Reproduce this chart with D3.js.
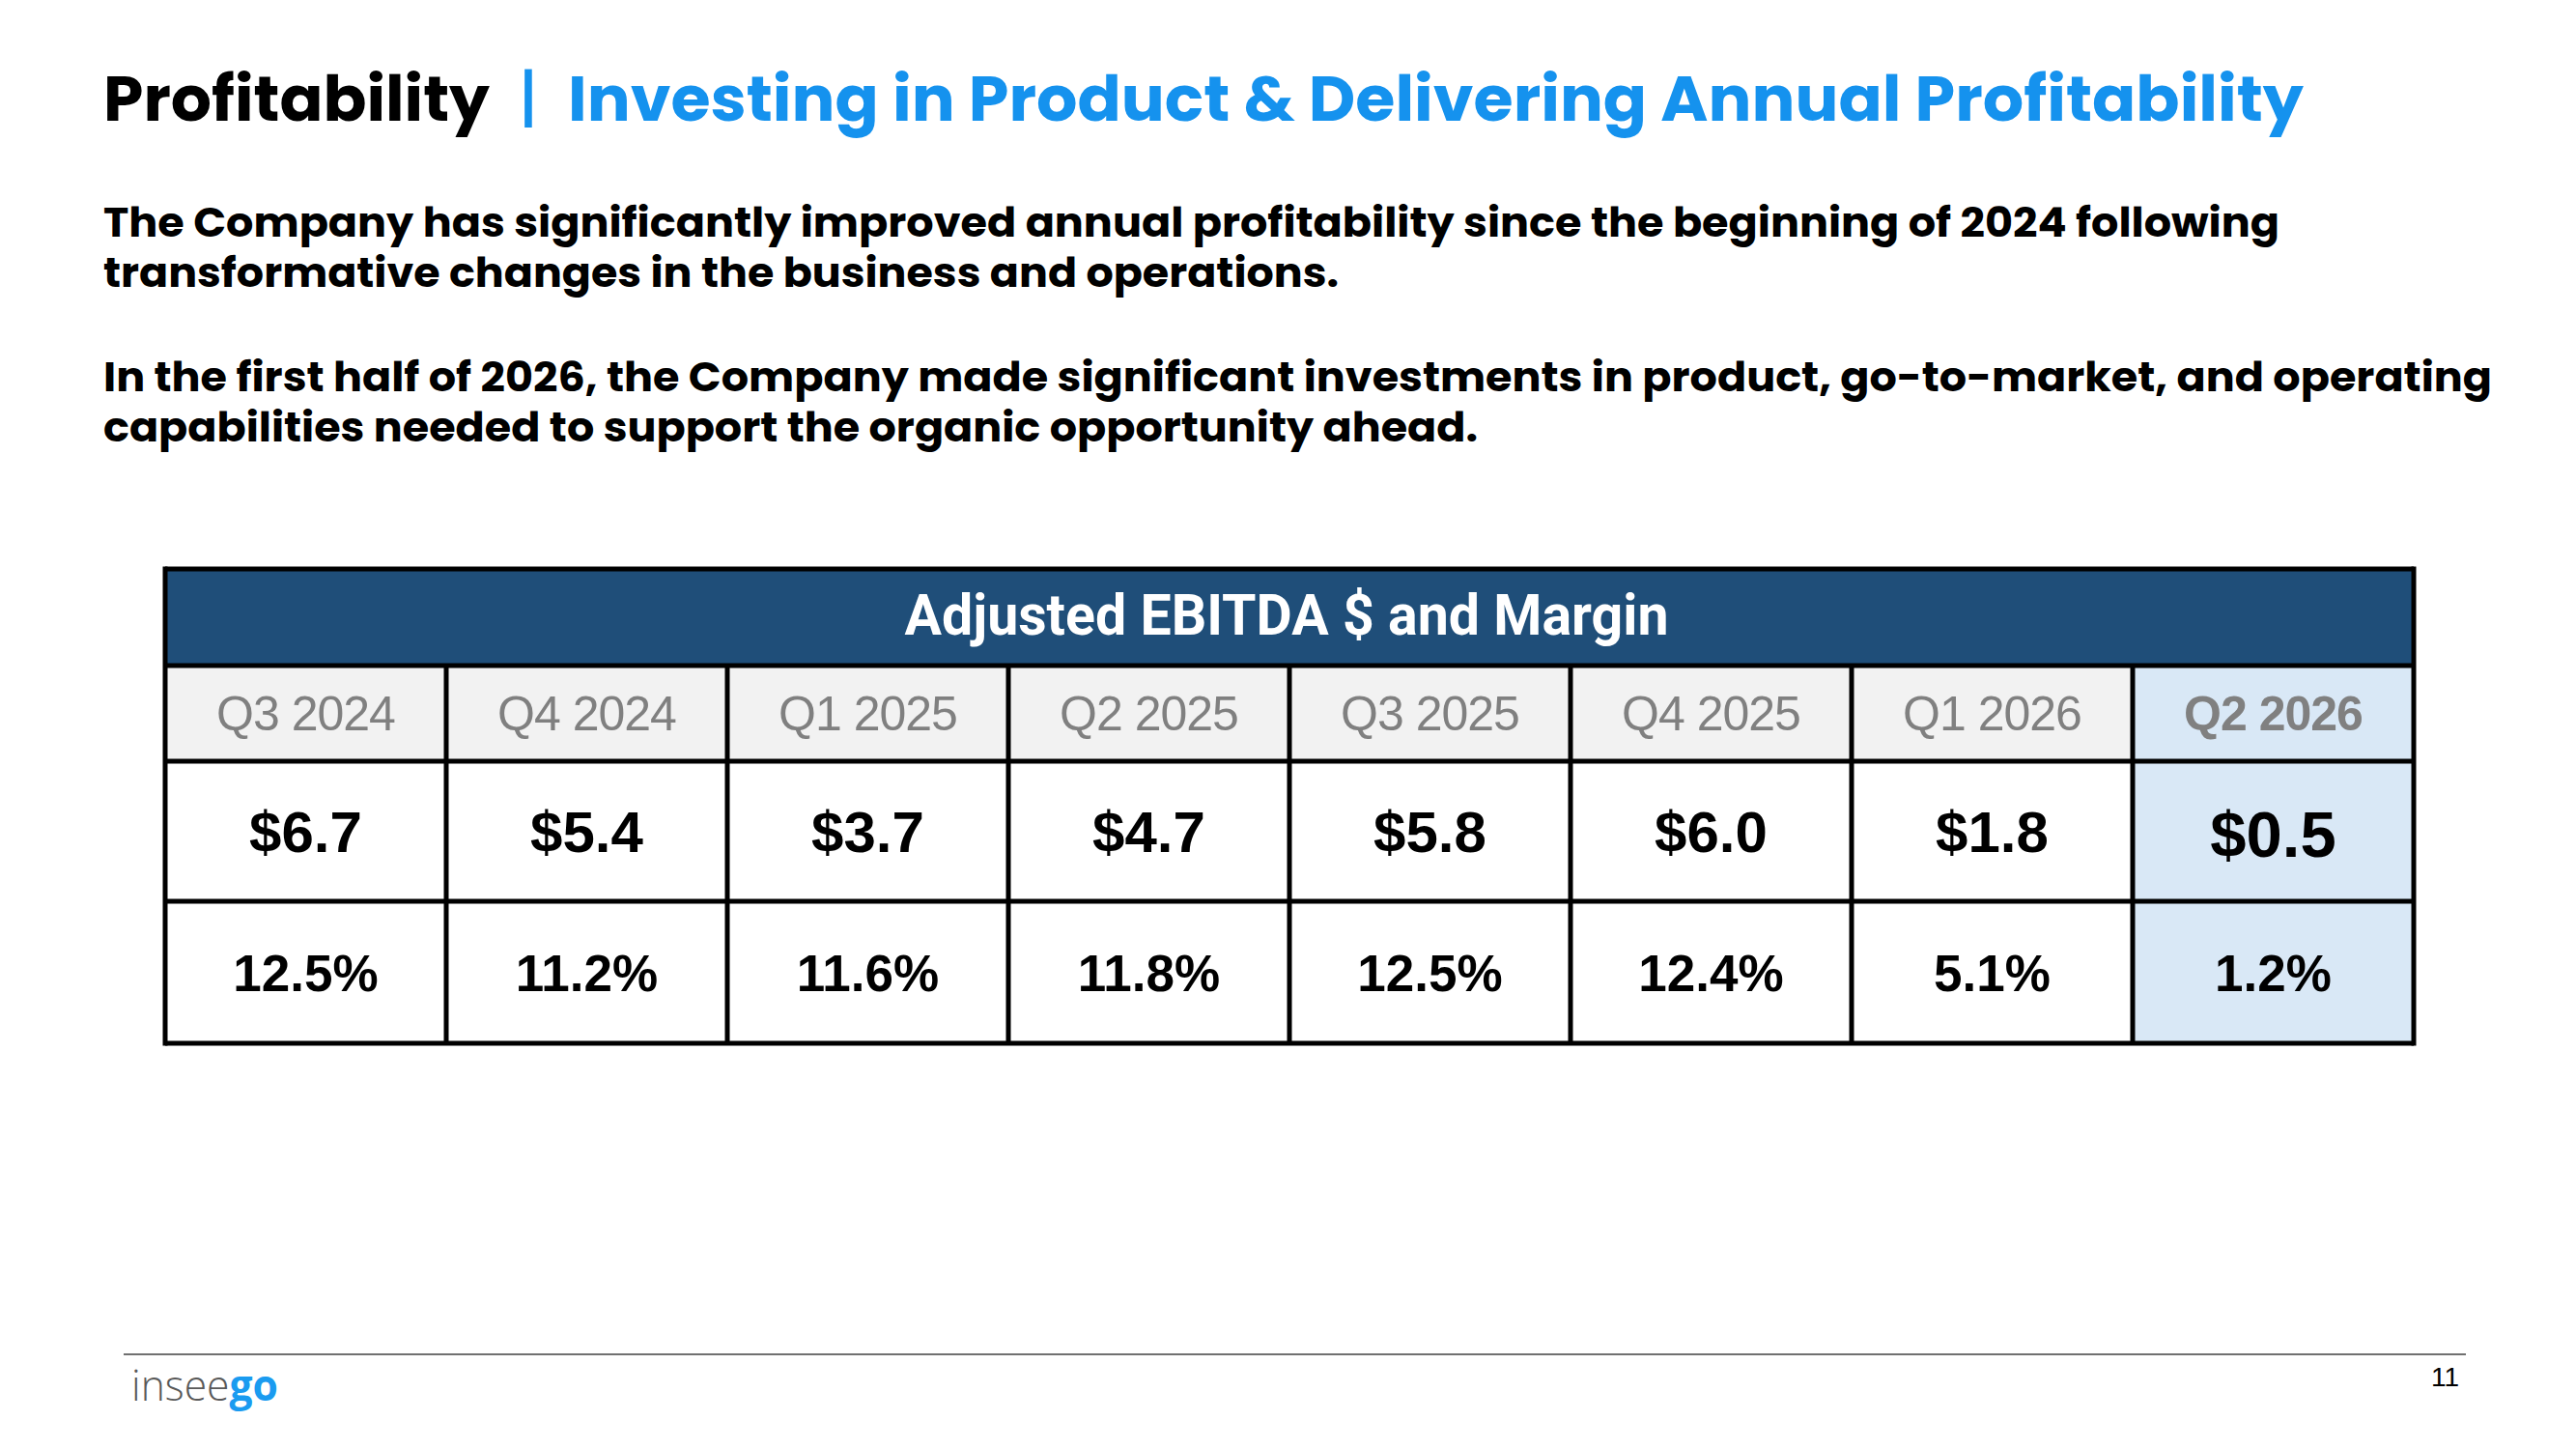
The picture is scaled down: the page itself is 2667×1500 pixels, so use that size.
<!DOCTYPE html>
<html>
<head>
<meta charset="utf-8">
<script src="https://cdn.jsdelivr.net/npm/d3@7/dist/d3.min.js"></script>
<style>
  body { margin: 0; background: #ffffff; }
  svg { display: block; }
</style>
</head>
<body>
<div id="main"></div>
<script>
const ctx = {
    W: 2667,
    H: 1500,
    BLUE: "#1592ee",
    NAVY: "#1f4e79",
    GREY_BG: "#f2f2f2",
    HILITE_BG: "#d9e8f6",
    QUARTER_TXT: "#808080"
};

// chart data
const quarters = ["Q3 2024", "Q4 2024", "Q1 2025", "Q2 2025", "Q3 2025", "Q4 2025", "Q1 2026", "Q2 2026"];
const ebitda = [6.7, 5.4, 3.7, 4.7, 5.8, 6.0, 1.8, 0.5];
const margins = [12.5, 11.2, 11.6, 11.8, 12.5, 12.4, 5.1, 1.2];
const highlightQuarter = "Q2 2026";

const tableTitle = "Adjusted EBITDA $ and Margin";
const titleMain = "Profitability";
const titleSub = "Investing in Product & Delivering Annual Profitability";
const paragraphs = [
    ["The Company has significantly improved annual profitability since the beginning of 2024 following",
     "transformative changes in the business and operations."],
    ["In the first half of 2026, the Company made significant investments in product, go-to-market, and operating",
     "capabilities needed to support the organic opportunity ahead."]
];

const bodyFont = "Poppins, 'Open Sans', sans-serif";
const tableFont = "'Liberation Sans', Arial, sans-serif";

function drawHeading(svg) {
    // title line: black part, blue bar, blue part
    svg.append("text")
        .attr("x", 107).attr("y", 125)
        .attr("font-family", bodyFont).attr("font-weight", 700)
        .attr("font-size", 66).attr("fill", "#000")
        .attr("textLength", 400).attr("lengthAdjust", "spacingAndGlyphs")
        .text(titleMain);
    svg.append("text")
        .attr("x", 547).attr("y", 125)
        .attr("text-anchor", "middle")
        .attr("font-family", bodyFont).attr("font-weight", 500)
        .attr("font-size", 66).attr("fill", ctx.BLUE)
        .text("|");
    svg.append("text")
        .attr("x", 588).attr("y", 125)
        .attr("font-family", bodyFont).attr("font-weight", 700)
        .attr("font-size", 66).attr("fill", ctx.BLUE)
        .attr("textLength", 1797).attr("lengthAdjust", "spacingAndGlyphs")
        .text(titleSub);

    // body paragraphs, line widths
    const lineEnds = [[2360, 1386], [2580, 1530]];
    const paraTop = [245, 405];
    paragraphs.forEach((lines, p) => {
        const t = svg.append("text")
            .attr("x", 107).attr("y", paraTop[p])
            .attr("font-family", bodyFont).attr("font-weight", 700)
            .attr("font-size", 42).attr("fill", "#000");
        lines.forEach((line, i) => {
            t.append("tspan")
                .attr("x", 107)
                .attr("y", paraTop[p] + i * 52)
                .attr("textLength", lineEnds[p][i] - 107)
                .attr("lengthAdjust", "spacingAndGlyphs")
                .text(line);
        });
    });
}

function drawTable(svg) {
    const left = 171, right = 2499;
    const rowEdges = [589, 689, 788, 933, 1080];

    const xScale = d3.scaleBand()
        .domain(quarters)
        .range([left, right]);

    const g = svg.append("g").attr("id", "table");

    // header band
    g.append("rect")
        .attr("x", left).attr("y", rowEdges[0])
        .attr("width", right - left).attr("height", rowEdges[1] - rowEdges[0])
        .attr("fill", ctx.NAVY);
    g.append("text")
        .attr("x", 1332).attr("y", 657)
        .attr("text-anchor", "middle")
        .attr("font-family", "Roboto, sans-serif").attr("font-weight", 700)
        .attr("font-size", 59).attr("fill", "#fff")
        .attr("textLength", 791).attr("lengthAdjust", "spacingAndGlyphs")
        .text(tableTitle);

    const rows = quarters.map((q, i) => ({ q: q, ebitda: ebitda[i], margin: margins[i] }));
    const isHi = d => d.q === highlightQuarter;

    // cell backgrounds
    [1, 2, 3].forEach(r => {
        g.selectAll(null)
            .data(rows)
            .enter()
            .append("rect")
            .attr("x", d => xScale(d.q))
            .attr("y", rowEdges[r])
            .attr("width", xScale.bandwidth())
            .attr("height", rowEdges[r + 1] - rowEdges[r])
            .attr("fill", d => isHi(d) ? ctx.HILITE_BG : (r === 1 ? ctx.GREY_BG : "#fff"));
    });

    const cx = d => xScale(d.q) + xScale.bandwidth() / 2;

    // quarter labels
    g.selectAll(".qlab")
        .data(rows)
        .enter()
        .append("text")
        .attr("class", "qlab")
        .attr("x", cx).attr("y", 756)
        .attr("text-anchor", "middle")
        .attr("font-family", tableFont)
        .attr("font-weight", d => isHi(d) ? 700 : 400)
        .attr("font-size", 50).attr("fill", ctx.QUARTER_TXT)
        .attr("letter-spacing", -1)
        .text(d => d.q);

    // EBITDA $M
    const fmtD = d3.format("$.1f");
    g.selectAll(".vlab")
        .data(rows)
        .enter()
        .append("text")
        .attr("class", "vlab")
        .attr("x", cx).attr("y", d => isHi(d) ? 887 : 882)
        .attr("text-anchor", "middle")
        .attr("font-family", tableFont).attr("font-weight", 700)
        .attr("font-size", d => isHi(d) ? 67 : 60).attr("fill", "#000")
        .text(d => fmtD(d.ebitda));

    // margin %
    g.selectAll(".mlab")
        .data(rows)
        .enter()
        .append("text")
        .attr("class", "mlab")
        .attr("x", cx).attr("y", 1026)
        .attr("text-anchor", "middle")
        .attr("font-family", tableFont).attr("font-weight", 700)
        .attr("font-size", 53).attr("fill", "#000")
        .text(d => d.margin.toFixed(1) + "%");

    // grid lines
    const bw = 5;
    rowEdges.forEach(y => {
        g.append("line")
            .attr("x1", left).attr("x2", right)
            .attr("y1", y).attr("y2", y)
            .attr("stroke", "#000").attr("stroke-width", bw);
    });
    g.selectAll(".vline")
        .data(quarters.slice(1))
        .enter()
        .append("line")
        .attr("class", "vline")
        .attr("x1", d => xScale(d)).attr("x2", d => xScale(d))
        .attr("y1", rowEdges[1]).attr("y2", rowEdges[4])
        .attr("stroke", "#000").attr("stroke-width", bw);
    [left, right].forEach(x => {
        g.append("line")
            .attr("x1", x).attr("x2", x)
            .attr("y1", rowEdges[0] - bw / 2).attr("y2", rowEdges[4] + bw / 2)
            .attr("stroke", "#000").attr("stroke-width", bw);
    });
}

function drawFooter(svg) {
    svg.append("line")
        .attr("x1", 128).attr("x2", 2553)
        .attr("y1", 1402).attr("y2", 1402)
        .attr("stroke", "#707070").attr("stroke-width", 2);

    const logo = svg.append("text")
        .attr("x", 136).attr("y", 1450)
        .attr("font-family", "'Open Sans', sans-serif")
        .attr("font-size", 44)
        .attr("textLength", 152).attr("lengthAdjust", "spacingAndGlyphs");
    logo.append("tspan").attr("font-weight", 300).attr("fill", "#595959").text("insee");
    logo.append("tspan").attr("font-weight", 700).attr("fill", "#1a9bf0").text("go");

    svg.append("text")
        .attr("x", 2546).attr("y", 1435)
        .attr("text-anchor", "end")
        .attr("font-family", "'Liberation Sans Narrow', 'Liberation Sans', sans-serif")
        .attr("font-size", 28).attr("fill", "#000")
        .text("11");
}

function createViz() {
    const svg = d3.select("#main").append("svg")
        .attr("width", ctx.W)
        .attr("height", ctx.H);
    svg.append("rect").attr("width", ctx.W).attr("height", ctx.H).attr("fill", "#fff");
    drawHeading(svg);
    drawTable(svg);
    drawFooter(svg);
}

createViz();
</script>
</body>
</html>
